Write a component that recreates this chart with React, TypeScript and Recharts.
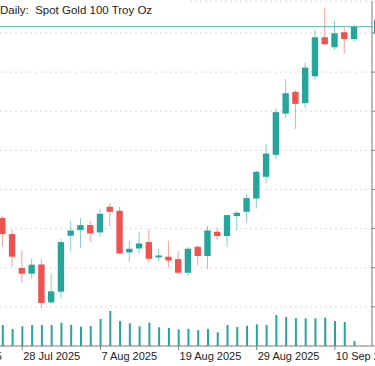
import React from 'react';
import { ComposedChart, Bar, XAxis, YAxis, CartesianGrid, ReferenceLine } from 'recharts';

// daily bars, 24 Jul 2025 .. 12 Sep 2025
const dates = [
    '24 Jul', '25 Jul', '28 Jul', '29 Jul', '30 Jul', '31 Jul', '1 Aug', '4 Aug', '5 Aug', '6 Aug',
    '7 Aug', '8 Aug', '11 Aug', '12 Aug', '13 Aug', '14 Aug', '15 Aug', '18 Aug', '19 Aug', '20 Aug',
    '21 Aug', '22 Aug', '25 Aug', '26 Aug', '27 Aug', '28 Aug', '29 Aug', '1 Sep', '2 Sep', '3 Sep',
    '4 Sep', '5 Sep', '8 Sep', '9 Sep', '10 Sep', '11 Sep', '12 Sep',
];
const open = [
    3413.5, 3393.0, 3349.6, 3342.4, 3354.2, 3305.7, 3319.4, 3390.9, 3398.1, 3404.5,
    3395.1, 3427.9, 3422.8, 3369.6, 3374.7, 3382.8, 3363.2, 3364.1, 3361.1, 3343.6,
    3376.8, 3365.0, 3396.0, 3390.5, 3416.0, 3421.5, 3438.5, 3466.2, 3494.3, 3547.0,
    3574.7, 3560.3, 3594.7, 3644.5, 3631.7, 3650.9, 3642.3,
];
const high = [
    3416.4, 3398.5, 3371.7, 3361.5, 3361.5, 3342.4, 3387.0, 3410.0, 3413.8, 3410.0,
    3424.9, 3432.6, 3427.9, 3384.5, 3396.0, 3399.4, 3374.3, 3384.5, 3371.7, 3376.8,
    3379.0, 3403.3, 3401.1, 3418.0, 3422.8, 3444.1, 3474.2, 3507.9, 3554.3, 3590.9,
    3577.2, 3611.7, 3654.7, 3681.5, 3665.3, 3657.3, 3660.6,
];
const low = [
    3377.2, 3351.7, 3330.5, 3336.4, 3299.0, 3304.1, 3310.8, 3370.8, 3375.6, 3383.2,
    3390.0, 3402.7, 3367.0, 3357.7, 3368.3, 3356.8, 3358.6, 3350.4, 3342.7, 3340.2,
    3352.6, 3348.4, 3385.4, 3376.4, 3397.6, 3407.8, 3425.7, 3457.6, 3488.8, 3541.5,
    3527.5, 3553.9, 3590.9, 3635.1, 3628.3, 3623.2, 3638.9,
];
const close = [
    3393.0, 3364.1, 3342.4, 3353.9, 3305.0, 3319.8, 3382.8, 3397.6, 3404.5, 3393.8,
    3419.0, 3421.5, 3368.3, 3374.3, 3381.0, 3361.5, 3365.7, 3359.3, 3343.6, 3374.3,
    3365.0, 3397.6, 3390.5, 3417.3, 3420.2, 3439.0, 3472.6, 3495.9, 3548.8, 3573.0,
    3559.4, 3605.7, 3644.5, 3635.6, 3649.6, 3642.3, 3658.0,
];
const volume = [
    210, 170, 197, 210, 210, 210, 233, 212, 193, 200,
    270, 350, 250, 227, 197, 233, 187, 180, 167, 173,
    160, 170, 137, 210, 190, 203, 217, 210, 310, 290,
    277, 277, 277, 283, 250, 240, 50,
];

// bar index of each date label (16 Jul is 6 bars before the first bar)
const tickIndex = [-6, 2, 10, 18, 26, 34];
const tickLabels = ['16 Jul 2025', '28 Jul 2025', '7 Aug 2025', '19 Aug 2025', '29 Aug 2025', '10 Sep 2025'];
const gridIndex = [-6, -2, 2, 6, 10, 14, 18, 22, 26, 30, 34];
const priceTicks = [3250, 3300, 3350, 3400, 3450, 3500, 3550, 3600, 3650];

const UP = '#26a69a';
const DOWN = '#ef5350';
const FRAME = '#808080';

const rows = dates.map((date, i) => ({
    i,
    date,
    open: open[i],
    high: high[i],
    low: low[i],
    close: close[i],
    volume: volume[i],
}));

const Candle = (props: any) => {
    const { x, y, width, height, payload } = props;
    const top = Math.min(y, y + height);
    const h = Math.abs(height);
    const cx = x + width / 2;
    const span = payload.high - payload.low;
    const py = (v: number) => top + ((payload.high - v) / span) * h;
    const up = payload.close >= payload.open;
    const color = up ? UP : DOWN;
    const bTop = py(Math.max(payload.open, payload.close));
    const bBot = py(Math.min(payload.open, payload.close));
    return (
        <g>
            <line x1={cx} x2={cx} y1={top} y2={top + h} stroke={color} strokeOpacity={0.55} strokeWidth={1} />
            <rect x={cx - 3.2} y={bTop} width={6.4} height={Math.max(bBot - bTop, 1)} fill={color} />
        </g>
    );
};

const DateTick = (props: any) => {
    const { x, y, payload } = props;
    const k = tickIndex.indexOf(payload.value);
    return (
        <text x={x + 1} y={y + 8} fill="#222" fontSize={11} textAnchor="start">
            {tickLabels[k]}
        </text>
    );
};

const PriceTag = (props: any) => {
    const { viewBox } = props;
    if (!viewBox) return null;
    return (
        <g>
            <rect x={viewBox.x + viewBox.width + 2} y={viewBox.y - 7} width={46} height={14} fill={UP} />
            <text x={viewBox.x + viewBox.width + 5} y={viewBox.y + 4} fill="#fff" fontSize={11}>
                {close[close.length - 1].toFixed(1)}
            </text>
        </g>
    );
};

const App: React.FC = () => {
    return (
        <div style={{ position: 'absolute', left: 0, top: 0, width: 375, height: 366, overflow: 'hidden', background: '#fff' }}>
            <div style={{ position: 'absolute', left: -80, top: 0 }}>
                <ComposedChart
                    width={500}
                    height={366}
                    data={rows}
                    margin={{ top: 1, right: 8, bottom: 0, left: 0 }}
                    style={{ fontFamily: '"Liberation Sans", Arial, sans-serif' }}
                >
                    <CartesianGrid xAxisId="grid" yAxisId="price" stroke="#dcdcdc" strokeDasharray="2 3" />
                    <XAxis
                        xAxisId="date"
                        type="number"
                        dataKey="i"
                        domain={[-8.465, 37.8]}
                        allowDataOverflow
                        ticks={tickIndex}
                        interval={0}
                        height={20}
                        tickSize={4}
                        tick={<DateTick />}
                        stroke={FRAME}
                    />
                    <XAxis
                        xAxisId="grid"
                        type="number"
                        dataKey="i"
                        orientation="top"
                        domain={[-8.465, 37.8]}
                        allowDataOverflow
                        ticks={gridIndex}
                        height={0}
                        tick={false}
                        tickLine={false}
                        stroke={FRAME}
                    />
                    <YAxis
                        yAxisId="price"
                        orientation="right"
                        domain={[3250, 3690.85]}
                        allowDataOverflow
                        ticks={priceTicks}
                        width={40}
                        tickSize={4}
                        stroke={FRAME}
                        tick={{ fontSize: 11, fill: '#222' }}
                    />
                    <YAxis yAxisId="vol" hide domain={[0, 3450]} />
                    <Bar xAxisId="grid" yAxisId="vol" dataKey="volume" barSize={2} fill={UP} isAnimationActive={false} />
                    <Bar
                        xAxisId="date"
                        yAxisId="price"
                        dataKey={(d: any) => [d.low, d.high]}
                        barSize={7}
                        shape={<Candle />}
                        isAnimationActive={false}
                    />
                    <ReferenceLine
                        xAxisId="date"
                        yAxisId="price"
                        y={close[close.length - 1]}
                        stroke="#4db6ac"
                        label={<PriceTag />}
                    />
                </ComposedChart>
            </div>
            <div
                style={{
                    position: 'absolute',
                    left: 0,
                    top: 0,
                    width: 187,
                    height: 18,
                    paddingTop: 4,
                    boxSizing: 'border-box',
                    background: '#fff',
                    fontFamily: '"Liberation Sans", Arial, sans-serif',
                    fontSize: 11.5,
                    color: '#222',
                    whiteSpace: 'pre',
                }}
            >
                {'Daily:  Spot Gold 100 Troy Oz'}
            </div>
        </div>
    );
};

export default App;
